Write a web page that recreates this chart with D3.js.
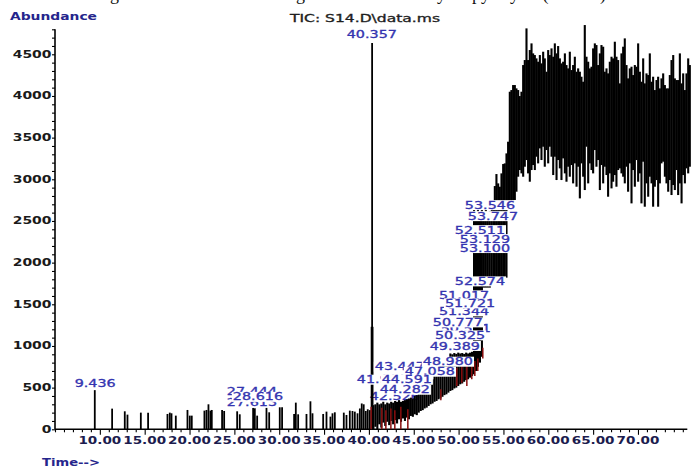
<!DOCTYPE html>
<html><head><meta charset="utf-8">
<script src="https://cdn.jsdelivr.net/npm/d3@7"></script>
<style>body{margin:0;background:#fff}svg{display:block}</style>
</head><body><svg id="c" width="691" height="468"></svg>
<script>
// ---------------- data ----------------
const captionParts = ["Figure 4.7: GC-MS chromato", "gram of the oil ", "by fast ", "pyrolysis (S14 oil)"];
const captionAt = [95, 296, 428, 472];
const yLabel = "Abundance";
const xLabel = "Time-->";
const ticTitle = "TIC: S14.D\\data.ms";

const yTickValues = [0, 500, 1000, 1500, 2000, 2500, 3000, 3500, 4000, 4500];
const yTickLabels = ["0", "500", "1000", "1500", "2000", "2500", "3000", "3500", "4000", "4500"];
const xTickValues = [10, 15, 20, 25, 30, 35, 40, 45, 50, 55, 60, 65, 70];
const xTickLabels = ["10.00", "15.00", "20.00", "25.00", "30.00", "35.00", "40.00", "45.00", "50.00", "55.00", "60.00", "65.00", "70.00"];

// discrete peaks (retention time, abundance)
const peakT = [9.436, 11.37, 12.78, 13.08, 14.57, 15.38, 17.54, 17.80, 17.99, 18.47, 19.77, 20.03, 20.25,
  21.66, 21.89, 22.11, 22.33, 22.48, 23.63, 23.86, 25.31, 25.60, 27.09, 27.28, 27.54, 28.58, 28.88,
  30.06, 30.32, 31.66, 31.85, 32.11, 33.04, 33.48, 33.71, 34.90, 35.27, 35.71, 35.94, 36.20,
  37.20, 37.50, 37.87, 38.17, 38.43, 38.73, 38.99, 39.20, 39.42, 39.65, 39.87, 40.10, 40.30, 40.357, 40.41];
const peakV = [470, 248, 216, 176, 200, 200, 184, 200, 192, 164, 232, 164, 164,
  224, 232, 300, 224, 232, 232, 220, 216, 180, 260, 252, 164, 264, 204,
  264, 264, 184, 320, 180, 184, 336, 192, 184, 212, 152, 192, 204,
  200, 172, 224, 220, 212, 192, 250, 310, 300, 220, 240, 230, 1230, 4636, 1230];

// unresolved hump: time, lower and upper signal level
const bandT = [40.50, 40.72, 40.94, 41.16, 41.38, 41.60, 41.82, 42.04, 42.26, 42.48, 42.70, 42.92, 43.14, 43.36, 43.58, 43.80,
  44.02, 44.24, 44.46, 44.68, 44.90, 45.12, 45.34, 45.56, 45.78, 46.00, 46.22, 46.44, 46.66, 46.88, 47.10, 47.32,
  47.54, 47.76, 47.98, 48.20, 48.42, 48.64, 48.86, 49.08, 49.30, 49.52, 49.74, 49.96, 50.18, 50.40, 50.62, 50.84,
  51.06, 51.28, 51.50, 51.72, 51.94, 52.16, 52.38, 52.60, 52.82, 53.04, 53.26, 53.48, 53.70, 53.90,
  54.04, 54.22, 54.41, 54.60, 54.78, 54.97, 55.15, 55.34, 55.52, 55.71, 55.89, 56.08, 56.27, 56.45, 56.64, 56.82,
  57.01, 57.20, 57.38, 57.57, 57.75, 57.94, 58.13, 58.31, 58.50, 58.68, 58.87, 59.06, 59.24, 59.43, 59.61, 59.80,
  59.99, 60.17, 60.36, 60.55, 60.73, 60.92, 61.10, 61.29, 61.47, 61.66, 61.85, 62.03, 62.22, 62.40, 62.59, 62.77,
  62.96, 63.15, 63.33, 63.52, 63.70, 63.89, 64.07, 64.26, 64.45,
  64.63, 64.82, 65.00, 65.19, 65.37, 65.56, 65.75, 65.93, 66.12, 66.30, 66.49, 66.67, 66.86, 67.05, 67.23, 67.42,
  67.60, 67.79, 67.98, 68.16, 68.35, 68.53, 68.72, 68.90, 69.09, 69.28, 69.46, 69.65, 69.83, 70.02, 70.21, 70.39,
  70.58, 70.76, 70.95, 71.14, 71.32, 71.51, 71.69, 71.88, 72.07, 72.25, 72.44, 72.62, 72.81, 73.00, 73.18, 73.37,
  73.55, 73.74, 73.93, 74.11, 74.30, 74.48, 74.67, 74.86, 75.04, 75.23, 75.41, 75.60, 75.78];
const bandLo = [0, 30, 0, 60, 20, 80, 40, 90, 50, 100, 60, 110, 70, 120, 90, 130,
  100, 140, 120, 160, 150, 180, 170, 200, 220, 230, 250, 260, 280, 300, 310, 330,
  340, 360, 370, 390, 410, 420, 440, 460, 470, 490, 500, 520, 540, 550, 570, 590,
  600, 620, 640, 660, 700, 750, 800, 870, 1700, 1700, 1700, 1700, 1720, 1760,
  1820, 1820, 1820, 1820, 1820, 1820, 1820, 1820, 2731, 2731, 2731, 2731, 2751, 2851, 3031, 3111,
  3071, 3031, 3151, 3231, 3071, 2971, 3111, 3171, 3111, 3271, 3191, 3371, 3231, 3391, 3151, 3351,
  3191, 3391, 3271, 3051, 3271, 2991, 3231, 3131, 2991, 3251, 3071, 2971, 3151, 3031, 3171, 2951,
  3191, 2911, 3151, 2771, 3191, 3031, 2871, 3391, 2951,
  3191, 3111, 3071, 3351, 3151, 3231, 2871, 3171, 2951, 3151, 3051, 2791, 3071, 2891, 2971, 3051,
  2911, 3111, 3131, 3071, 3031, 2951, 3151, 2851, 3191, 2711, 3111, 2911, 3231, 2971, 3071, 2711,
  3211, 2671, 2951, 2791, 3031, 2951, 2671, 2911, 2991, 2671, 2951, 3191, 3211, 3031, 2951, 2851,
  2991, 2811, 2931, 2871, 3111, 2811, 2951, 2711, 3051, 2951, 3131, 3071, 3151];
const bandHi = [290, 300, 320, 300, 310, 330, 300, 320, 310, 330, 320, 340, 330, 350, 330, 340,
  350, 360, 370, 380, 370, 400, 410, 430, 440, 460, 480, 500, 520, 560, 600, 640,
  680, 720, 760, 790, 800, 820, 840, 910, 900, 915, 905, 920, 910, 915, 905, 920,
  910, 920, 930, 2650, 2600, 2650, 2600, 2650, 2600, 2650, 2600, 2620, 2650, 2700,
  2919, 3063, 2951, 2911, 3071, 3183, 3191, 3311, 3451, 4051, 4071, 4131, 4131, 4091, 4071, 3999,
  4051, 4371, 4431, 4811, 4431, 4551, 4631, 4511, 4491, 4451, 4411, 4491, 4391, 4531, 4451, 4291,
  4551, 4491, 4571, 4471, 4631, 4511, 4599, 4451, 4391, 4411, 4511, 4371, 4331, 4531, 4311, 4371,
  4471, 4291, 4331, 4291, 4231, 4171, 4851, 4471, 4411,
  4331, 4351, 4571, 4631, 4611, 4371, 4511, 4611, 4591, 4291, 4331, 4271, 4411, 4471, 4451, 4651,
  4471, 4431, 4151, 4511, 4591, 4691, 4371, 4211, 4331, 4351, 4251, 4371, 4351, 4631, 4291, 4171,
  4451, 4151, 4271, 4251, 4511, 4171, 4231, 4071, 4191, 4231, 4091, 4211, 4271, 4131, 4091, 4091,
  4251, 4431, 4491, 4211, 4191, 4191, 4511, 4151, 4271, 4071, 4271, 4451, 4371];

// secondary (red) trace
const redT = [40.25, 41.44, 41.89, 42.45, 42.89, 43.56, 44.34, 48.02, 49.80, 50.36, 50.92, 51.47, 51.81, 52.14, 52.70];
const redLo = [0, 0, 0, 0, 0, 0, 0, 350, 520, 560, 520, 600, 640, 700, 850];
const redHi = [270, 260, 230, 250, 230, 270, 240, 480, 740, 760, 800, 790, 820, 850, 980];

// peak labels: text, left edge (minutes), abundance level of the label centre
const labelsUnder = [
  ["50.521", 48.00, 1205], ["42.526", 40.10, 389]
];
const labelsOver = [
  ["40.357", 37.53, 4744],
  ["9.436", 7.20, 545],
  ["27.444", 24.16, 460], ["27.613", 24.16, 317], ["28.616", 24.83, 389],
  ["53.546", 50.70, 2690], ["53.747", 51.03, 2558], ["52.511", 49.58, 2390], ["53.129", 50.14, 2282],
  ["53.100", 50.14, 2175], ["52.574", 49.58, 1775], ["51.017", 47.81, 1607], ["51.344", 47.81, 1415],
  ["51.721", 48.48, 1511], ["50.777", 47.12, 1283], ["50.325", 47.37, 1127], ["49.389", 46.78, 1000],
  ["43.447", 40.66, 751],
  ["48.980", 46.01, 811], ["47.058", 44.00, 691], ["41.932", 38.66, 595], ["44.591", 41.43, 595],
  ["44.282", 41.21, 475]
];

// ---------------- drawing ----------------
const svg = d3.select("#c");
const x = d3.scaleLinear().domain([5, 75.5]).range([55, 687.3]);
const y = d3.scaleLinear().domain([0, 4800]).range([429.3, 29.3]);

const FONT = "DejaVu Sans, Verdana, sans-serif";
const DIGW = 9.2, DOTW = 4.2;
function txtWidth(s, dw, pw) {
  let w = 0;
  for (const ch of s) w += (ch === "." ? pw : dw);
  return w;
}

// caption (cut off at the top of the picture: only descenders show)
const cap = svg.append("text").attr("y", 0)
  .attr("font-family", "Liberation Serif, Times New Roman, serif").attr("font-size", 18)
  .attr("fill", "#111");
captionParts.forEach((p, i) => cap.append("tspan").attr("x", captionAt[i]).text(p));

// axes
const yMinor = d3.range(0, 4801, 100);
const xMinor = d3.range(5, 75.6, 1);
const gy = svg.append("g").attr("transform", "translate(55,0)");
gy.call(d3.axisLeft(y).tickValues(yMinor).tickSize(3).tickFormat(""));
gy.call(g => g.select(".domain").remove());
gy.append("line").attr("x1", 0).attr("x2", 0).attr("y1", y(0)).attr("y2", y(4800))
  .attr("stroke", "#000").attr("stroke-width", 1.6);
gy.selectAll(".tick line").attr("stroke", "#000").attr("stroke-width", 1.1);

yTickValues.forEach((v, i) => {
  const s = yTickLabels[i];
  svg.append("text").attr("x", 51.5).attr("y", y(v) + 3.5)
    .attr("text-anchor", "end").attr("font-family", FONT).attr("font-weight", "bold")
    .attr("font-size", 9.6).attr("fill", "#1a1a1a")
    .attr("textLength", txtWidth(s, 9.7, 4.5)).attr("lengthAdjust", "spacingAndGlyphs")
    .text(s);
});

const gx = svg.append("g").attr("transform", `translate(0,${y(0)})`);
gx.call(d3.axisBottom(x).tickValues(xMinor).tickSize(3).tickFormat(""));
gx.call(g => g.select(".domain").remove());
gx.selectAll(".tick line").attr("stroke", "#000").attr("stroke-width", 1.1);
gx.selectAll(".tick").filter(d => xTickValues.includes(d)).select("line").attr("y2", 5.5);
gx.append("line").attr("x1", 55).attr("x2", 687.3).attr("y1", 0).attr("y2", 0)
  .attr("stroke", "#000").attr("stroke-width", 1.6);

xTickValues.forEach((v, i) => {
  const s = xTickLabels[i];
  svg.append("text").attr("x", x(v)).attr("y", 443.5)
    .attr("text-anchor", "middle").attr("font-family", FONT).attr("font-weight", "bold")
    .attr("font-size", 9.6).attr("fill", "#1c1c4e")
    .attr("textLength", txtWidth(s, 9.6, 4.4)).attr("lengthAdjust", "spacingAndGlyphs")
    .text(s);
});

// peak label drawing
function drawLabels(list) {
  list.forEach(([s, t, v]) => {
    const w = txtWidth(s, DIGW, DOTW);
    const lx = x(t), cy = y(v);
    svg.append("rect").attr("x", lx - 1).attr("y", cy - 5).attr("width", w + 2).attr("height", 10)
      .attr("fill", "#fff");
    svg.append("text").attr("x", lx).attr("y", cy + 3.6)
      .attr("font-family", FONT).attr("font-size", 9.6).attr("fill", "#3434b0")
      .attr("stroke", "#3434b0").attr("stroke-width", 0.3)
      .attr("textLength", w).attr("lengthAdjust", "spacingAndGlyphs").text(s);
  });
}

drawLabels(labelsUnder);

// discrete peaks
svg.append("g").selectAll("line").data(peakT).join("line")
  .attr("x1", d => x(d)).attr("x2", d => x(d))
  .attr("y1", y(0)).attr("y2", (d, i) => y(peakV[i]))
  .attr("stroke", "#000").attr("stroke-width", 1.8);

// dense region
svg.append("g").selectAll("line").data(bandT).join("line")
  .attr("x1", d => x(d)).attr("x2", d => x(d))
  .attr("y1", (d, i) => y(bandLo[i])).attr("y2", (d, i) => y(bandHi[i]))
  .attr("stroke", "#000").attr("stroke-width", 2.1);

// red trace
svg.append("g").selectAll("line").data(redT).join("line")
  .attr("x1", d => x(d)).attr("x2", d => x(d))
  .attr("y1", (d, i) => y(redLo[i])).attr("y2", (d, i) => y(redHi[i]))
  .attr("stroke", "#8a0f0f").attr("stroke-width", 1.5);

drawLabels(labelsOver);

// titles
svg.append("text").attr("x", 10).attr("y", 19.5)
  .attr("font-family", FONT).attr("font-weight", "bold").attr("font-size", 9.6).attr("fill", "#25258c")
  .attr("textLength", 87).attr("lengthAdjust", "spacingAndGlyphs").text(yLabel);
svg.append("text").attr("x", 42).attr("y", 465.5)
  .attr("font-family", FONT).attr("font-weight", "bold").attr("font-size", 9.6).attr("fill", "#25258c")
  .attr("textLength", 58).attr("lengthAdjust", "spacingAndGlyphs").text(xLabel);
svg.append("text").attr("x", 290).attr("y", 22)
  .attr("font-family", FONT).attr("font-size", 9.6).attr("fill", "#1e1e1e")
  .attr("stroke", "#1e1e1e").attr("stroke-width", 0.3)
  .attr("textLength", 150).attr("lengthAdjust", "spacingAndGlyphs").text(ticTitle);
</script></body></html>
